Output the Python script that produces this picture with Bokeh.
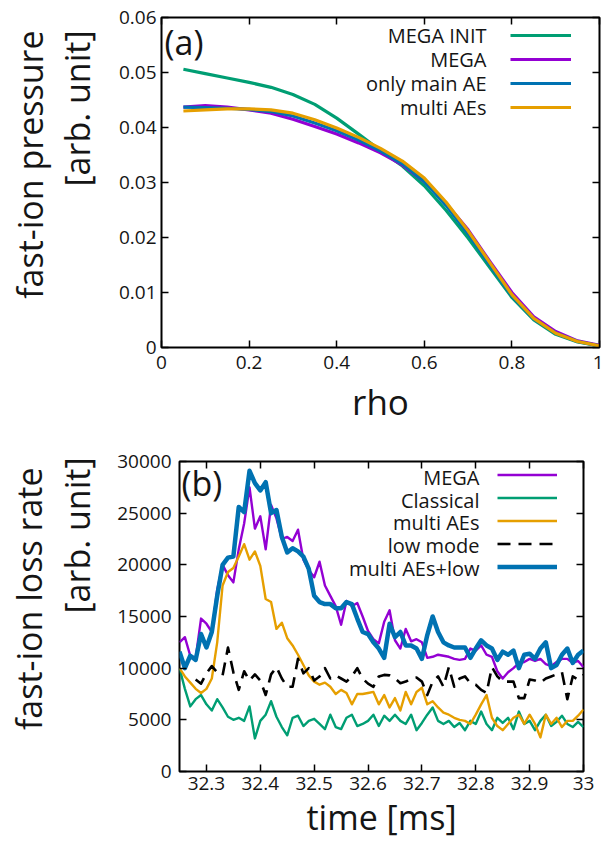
import math
from bokeh.plotting import figure
from bokeh.layouts import column
from bokeh.models import Range1d, Label, Legend, LegendItem, LinearAxis, FixedTicker, Title
from bokeh.embed import file_html
from bokeh.resources import INLINE

FONT = "Open Sans"
TXT = "#151515"

# ---------------- panel (a): fast-ion pressure profiles ----------------
rho = [0.05, 0.10, 0.15, 0.20, 0.25, 0.30, 0.35, 0.40, 0.45, 0.50,
       0.55, 0.60, 0.65, 0.70, 0.75, 0.80, 0.85, 0.90, 0.95, 1.00]
p_mega_init = [0.0506, 0.0498, 0.0490, 0.0482, 0.0473, 0.0460, 0.0442, 0.0417, 0.0388, 0.0358,
               0.0330, 0.0294, 0.0249, 0.0199, 0.0145, 0.0091, 0.0050, 0.0024, 0.0010, 0.0003]
p_mega = [0.0437, 0.0440, 0.0437, 0.0432, 0.0426, 0.0415, 0.0402, 0.0388, 0.0372, 0.0354,
          0.0332, 0.0302, 0.0262, 0.0214, 0.0156, 0.0100, 0.0056, 0.0029, 0.0012, 0.0004]
p_only_main = [0.0437, 0.0436, 0.0435, 0.0433, 0.0429, 0.0421, 0.0408, 0.0394, 0.0377, 0.0357,
               0.0334, 0.0302, 0.0258, 0.0207, 0.0150, 0.0094, 0.0052, 0.0026, 0.0011, 0.0003]
p_multi = [0.0430, 0.0432, 0.0434, 0.0434, 0.0432, 0.0426, 0.0414, 0.0399, 0.0382, 0.0362,
           0.0339, 0.0308, 0.0264, 0.0212, 0.0154, 0.0096, 0.0053, 0.0026, 0.0011, 0.0003]
rho_ticks = [0, 0.2, 0.4, 0.6, 0.8, 1.0]
pres_ticks = [0, 0.01, 0.02, 0.03, 0.04, 0.05, 0.06]
legend_a = ["MEGA INIT", "MEGA", "only main AE", "multi AEs"]

# ---------------- panel (b): fast-ion loss rate ----------------
time = [round(32.25 + 0.01 * i, 2) for i in range(76)]
loss_mega = [12500, 13000, 11200, 11000, 14800, 14300, 13500, 17600, 20000, 19000,
             18300, 21500, 24000, 27500, 23500, 24700, 21500, 25800, 24500, 22500,
             22700, 22300, 23400, 20500, 19500, 18800, 20300, 18000, 17000, 16000,
             14200, 16500, 16000, 16300, 15000, 13600, 12800, 12400, 14500, 15600,
             12700, 11900, 13800, 12600, 12800, 12500, 11000, 11100, 11300, 11200,
             11100, 10900, 10800, 10900, 11900, 11700, 12200, 11300, 11100, 9700,
             9000, 9600, 10000, 10500, 10600, 10900, 10700, 10900, 10400, 10200,
             10600, 10900, 10900, 10500, 10700, 10100]
loss_classical = [10000, 8000, 6300, 7000, 7400, 6500, 5900, 7000, 6200, 5300,
                  5000, 5200, 4900, 6300, 3200, 4900, 5500, 6800, 5300, 4300,
                  3500, 5200, 5400, 4400, 4900, 5100, 4600, 4100, 5500, 4300,
                  4100, 5200, 5500, 4400, 4600, 4900, 5500, 4400, 5400, 4900,
                  5500, 4900, 4600, 5500, 4000, 4700, 5500, 6200, 4900, 4600,
                  4900, 4300, 4700, 4000, 4900, 4600, 5800, 4600, 4000, 5200,
                  4700, 5200, 4100, 5800, 4600, 4900, 4000, 4900, 5500, 4400,
                  4800, 5400, 4600, 4300, 4800, 4300]
loss_multi = [10000, 9200, 8600, 8000, 7600, 8000, 9000, 12500, 18000, 19300,
              19700, 20800, 22000, 20500, 21300, 19900, 16700, 16400, 13800, 14400,
              12900, 12200, 11300, 10300, 9300, 8700, 8400, 8600, 8200, 7500,
              7900, 7600, 6500, 7500, 7500, 7600, 7700, 6500, 7400, 6200,
              7100, 5900, 7700, 6500, 7700, 8100, 6500, 6800, 6200, 5700,
              5500, 5200, 5000, 4900, 4600, 5500, 6500, 7400, 5200, 4400,
              4000, 4600, 5200, 5500, 4600, 5500, 4600, 3300, 5500, 4600,
              5200, 4300, 4900, 4900, 5400, 6000]
time_low = time[3:]
loss_low = [8900, 8500, 9500, 10200, 9600, 9300, 12000,
            9600, 7900, 9700, 8800, 9400, 8800, 7400, 9400, 10100, 9000,
            8200, 8200, 10900, 9500, 10000, 8800, 9200, 10000, 9000, 9300,
            9000, 8700, 9200, 10000, 9000, 8500, 8200, 9200, 9350, 9300,
            9000, 8550, 8700, 9000, 9100, 8700, 7400, 8700, 9200, 8200,
            10100, 8200, 9000, 9200, 8550, 8400, 7900, 7600, 10100, 9200,
            8700, 8700, 8700, 7100, 7100, 8900, 8800, 8600, 9000, 9200,
            9400, 9600, 7000, 9200, 8900, 9350]
loss_multi_low = [11600, 10000, 11200, 10800, 13300, 12000, 13500, 17000, 20000, 20700,
                  20800, 25600, 25100, 29100, 27900, 27200, 28000, 25000, 25300, 22700,
                  21200, 21600, 21300, 20800, 19600, 17000, 16400, 16200, 16200, 15800,
                  15800, 16400, 16200, 14800, 13500, 13300, 12500, 11900, 11000, 14300,
                  13000, 13500, 12200, 12200, 11900, 10900, 13200, 15000, 13500, 12500,
                  12200, 12000, 12000, 12000, 11000, 11900, 12700, 12200, 11900, 10800,
                  11600, 11300, 11700, 10000, 11300, 11400, 10900, 11900, 12500, 10000,
                  10300, 11300, 11900, 10500, 11300, 11700]
time_ticks = [32.3, 32.4, 32.5, 32.6, 32.7, 32.8, 32.9, 33.0]
loss_ticks = [0, 5000, 10000, 15000, 20000, 25000, 30000]
legend_b = ["MEGA", "Classical", "multi AEs", "low mode", "multi AEs+low"]

GREEN = "#009e73"
PURPLE = "#9400d3"
BLUE = "#0072b2"
ORANGE = "#e69f00"


def tick_style(ax):
    ax.axis_line_color = None
    ax.major_tick_in = 7
    ax.major_tick_out = 0
    ax.minor_tick_line_color = None
    ax.major_tick_line_color = "black"
    ax.major_tick_line_width = 1.5


def style_axes(p, xticks, yticks, xover, yover, xstand, ystand, xlabel, xlabel_size, xlabel_standoff):
    p.grid.visible = False
    p.outline_line_color = "black"
    p.outline_line_width = 2
    p.background_fill_color = "white"
    p.border_fill_color = "white"
    xa = p.xaxis[0]
    ya = p.yaxis[0]
    for ax in (xa, ya):
        tick_style(ax)
        ax.major_label_text_font = FONT
        ax.major_label_text_font_size = "19px"
        ax.major_label_text_color = TXT
    xa.ticker = FixedTicker(ticks=xticks)
    ya.ticker = FixedTicker(ticks=yticks)
    xa.major_label_overrides = xover
    ya.major_label_overrides = yover
    xa.major_label_standoff = xstand
    ya.major_label_standoff = ystand
    xa.axis_label = xlabel
    xa.axis_label_text_font = FONT
    xa.axis_label_text_font_style = "normal"
    xa.axis_label_text_font_size = xlabel_size
    xa.axis_label_text_color = TXT
    xa.axis_label_standoff = xlabel_standoff
    # mirrored inward ticks on top and right, without labels
    for loc, tk in (("above", xticks), ("right", yticks)):
        ax = LinearAxis(ticker=FixedTicker(ticks=tk))
        tick_style(ax)
        ax.major_label_overrides = {t: "" for t in tk}
        ax.major_label_text_font_size = "1px"
        ax.major_label_standoff = 0
        p.add_layout(ax, loc)


def add_label(p, x, y, text, size, align="left", baseline="alphabetic"):
    p.add_layout(Label(x=x, y=y, text=text, text_font=FONT, text_font_size=f"{size}px",
                       text_align=align, text_baseline=baseline, text_color=TXT))


def add_ytitle(p, text, standoff, offset):
    p.add_layout(Title(text=text, align="right", vertical_align="bottom",
                       standoff=standoff, offset=offset, text_font=FONT,
                       text_font_size="34px", text_font_style="normal",
                       text_color=TXT), "left")


def make_legend(p, renderers, loc, gw, gh):
    items = [LegendItem(label=" ", renderers=[r]) for r in renderers]
    lg = Legend(items=items, location=loc, glyph_width=gw, glyph_height=gh,
                label_height=gh, label_width=0, label_standoff=0, spacing=0,
                padding=0, margin=0, border_line_alpha=0, background_fill_alpha=0,
                label_text_font_size="1px")
    p.add_layout(lg)


# ---------------- figure (a) ----------------
XA0, XA1, YA0, YA1 = 0.0, 1.0, 0.0, 0.06
FA = dict(l=161, r=599, t=17, b=347)   # frame, page pixels


def a_xy(px, py):
    return (XA0 + (px - FA["l"]) / (FA["r"] - FA["l"]) * (XA1 - XA0),
            YA0 + (FA["b"] - py) / (FA["b"] - FA["t"]) * (YA1 - YA0))


p1 = figure(width=603, height=440, x_range=Range1d(XA0, XA1), y_range=Range1d(YA0, YA1),
            output_backend="svg", toolbar_location=None,
            min_border_left=161, min_border_right=4, min_border_top=17, min_border_bottom=93)
style_axes(p1, rho_ticks, pres_ticks, {0: "0", 1: "1"}, {0: "0"}, 8, 5, "rho", "35px", 6)
add_ytitle(p1, "[arb. unit]", 32, 13)
add_ytitle(p1, "fast-ion pressure", -34, 13)

LW_A = 3.2
r_init = p1.line(rho, p_mega_init, line_color=GREEN, line_width=LW_A, line_join="round")
r_mega = p1.line(rho, p_mega, line_color=PURPLE, line_width=LW_A, line_join="round")
r_main = p1.line(rho, p_only_main, line_color=BLUE, line_width=LW_A, line_join="round")
r_multi = p1.line(rho, p_multi, line_color=ORANGE, line_width=LW_A, line_join="round")

make_legend(p1, [r_init, r_mega, r_main, r_multi], (349, 228), 61, 24)
for i, name in enumerate(legend_a):
    x, y = a_xy(486, 35 + 24 * i)
    add_label(p1, x, y, name, 20, align="right", baseline="middle")
x, y = a_xy(164, 41)
add_label(p1, x, y, "(a)", 34, baseline="middle")

# ---------------- figure (b) ----------------
XB0, XB1, YB0, YB1 = 32.25, 33.0, 0, 30000
FB = dict(l=179, r=583, t=461, b=774)   # frame, page pixels


def b_xy(px, py):
    return (XB0 + (px - FB["l"]) / (FB["r"] - FB["l"]) * (XB1 - XB0),
            YB0 + (FB["b"] - py) / (FB["b"] - FB["t"]) * (YB1 - YB0))


p2 = figure(width=603, height=402, x_range=Range1d(XB0, XB1), y_range=Range1d(YB0, YB1),
            output_backend="svg", toolbar_location=None,
            min_border_left=179, min_border_right=20, min_border_top=21, min_border_bottom=68)
style_axes(p2, time_ticks, loss_ticks, {33.0: "33"}, {}, 5, 8, "time [ms]", "34px", 1)
add_ytitle(p2, "[arb. unit]", 30, -4)
add_ytitle(p2, "fast-ion loss rate", -30, 6)

rb_mega = p2.line(time, loss_mega, line_color=PURPLE, line_width=2.4, line_join="round")
rb_class = p2.line(time, loss_classical, line_color=GREEN, line_width=2.4, line_join="round")
rb_multi = p2.line(time, loss_multi, line_color=ORANGE, line_width=2.4, line_join="round")
rb_low = p2.line(time_low, loss_low, line_color="black", line_width=2.6, line_dash="13 8",
                 line_join="round")
rb_ml = p2.line(time, loss_multi_low, line_color=BLUE, line_width=4.5, line_join="round")

make_legend(p2, [rb_mega, rb_class, rb_multi, rb_low, rb_ml], (318, 193), 60, 23)
for i, name in enumerate(legend_b):
    x, y = b_xy(479, 477 + 23 * i)
    add_label(p2, x, y, name, 20, align="right", baseline="middle")
x, y = b_xy(181, 483)
add_label(p2, x, y, "(b)", 34, baseline="middle")

try:
    p1.frame_align = False
    p2.frame_align = False
    root = column(p1, p2)
except AttributeError:
    root = [p1, p2]

open("out.html", "w").write(file_html(root, INLINE))
